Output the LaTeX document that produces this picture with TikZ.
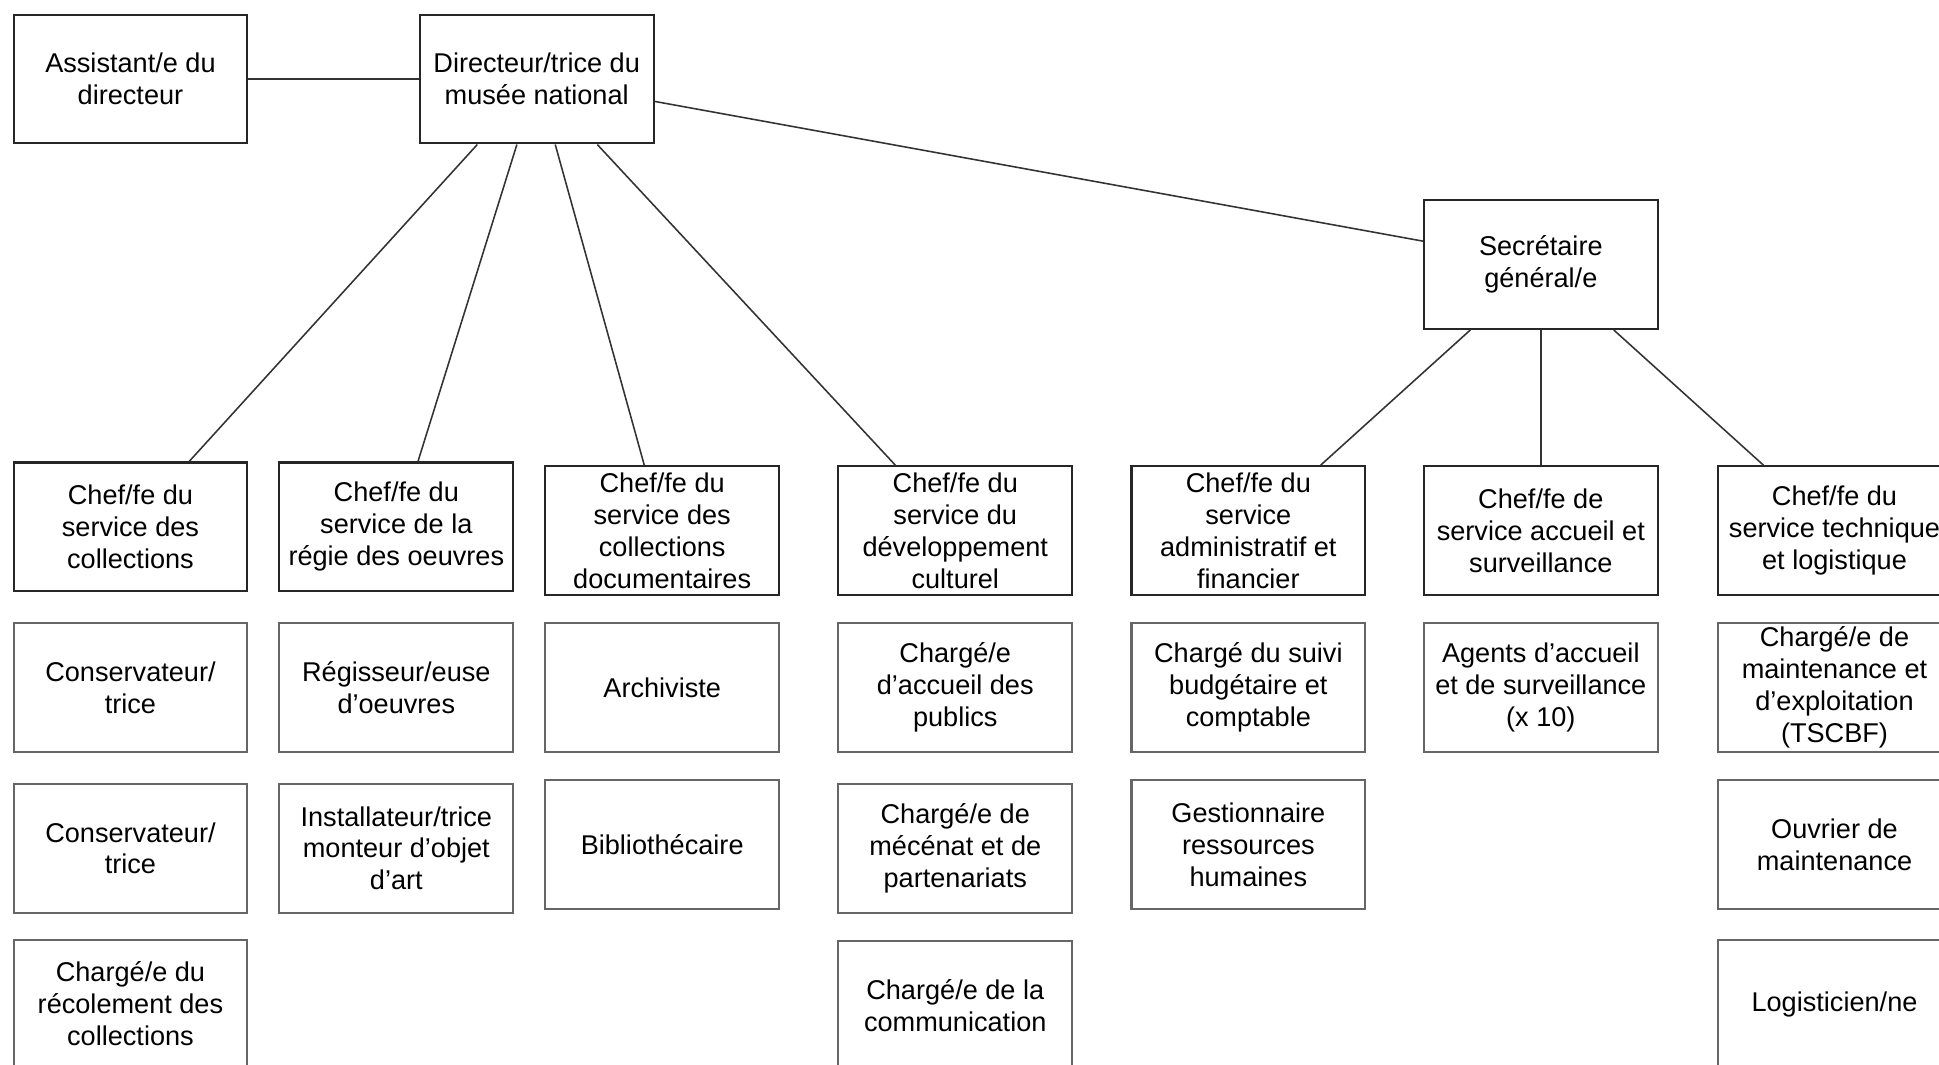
\documentclass[tikz,border=0pt]{standalone}
\usepackage{fontspec}
\setmainfont{Liberation Sans}
\usetikzlibrary{calc}

\begin{document}
\begin{tikzpicture}[x=0.0125cm,y=-0.0125cm,
    post/.style={draw=black!85,line width=0.6pt,minimum width=2.3625cm,
      minimum height=1.3cm,inner sep=0pt,align=center,
      font=\fontsize{7.8}{9.2}\selectfont},
    staff/.style={post,draw=black!60},
    link/.style={draw=black!80,line width=0.45pt}]
  \useasboundingbox (0,0) rectangle (1568,861);
  \clip (0,0) rectangle (1568,861);
  % direction
  \node[post] (asst) at (105.5,64) {Assistant/e du\\directeur};
  \node[post] (dir) at (434,64) {Directeur/trice du\\musée national};
  \node[post] (sg) at (1246,214) {Secrétaire\\général/e};
  % chefs de service
  \node[post] (coll) at (105.5,426) {Chef/fe du\\service des\\collections};
  \node[post] (regie) at (320.5,426) {Chef/fe du\\service de la\\régie des oeuvres};
  \node[post] (doc) at (535.5,429) {Chef/fe du\\service des\\collections\\documentaires};
  \node[post] (dev) at (772.5,429) {Chef/fe du\\service du\\développement\\culturel};
  \node[post] (adm) at (1009.5,429) {Chef/fe du\\service\\administratif et\\financier};
  \node[post] (acc) at (1246,429) {Chef/fe de\\service accueil et\\surveillance};
  \node[post] (tech) at (1483.5,429) {Chef/fe du\\service technique\\et logistique};
  % agents
  \node[staff] (cons1) at (105.5,556) {Conservateur/\\trice};
  \node[staff] (cons2) at (105.5,686) {Conservateur/\\trice};
  \node[staff] (recol) at (105.5,812) {Chargé/e du\\récolement des\\collections};
  \node[staff] (regis) at (320.5,556) {Régisseur/euse\\d’oeuvres};
  \node[staff] (install) at (320.5,686) {Installateur/trice\\monteur d’objet\\d’art};
  \node[staff] (archi) at (535.5,556) {Archiviste};
  \node[staff] (biblio) at (535.5,683) {Bibliothécaire};
  \node[staff] (publics) at (772.5,556) {Chargé/e\\d’accueil des\\publics};
  \node[staff] (mecenat) at (772.5,686) {Chargé/e de\\mécénat et de\\partenariats};
  \node[staff] (comm) at (772.5,813) {Chargé/e de la\\communication};
  \node[staff] (budget) at (1009.5,556) {Chargé du suivi\\budgétaire et\\comptable};
  \node[staff] (rh) at (1009.5,683) {Gestionnaire\\ressources\\humaines};
  \node[staff] (agents) at (1246,556) {Agents d’accueil\\et de surveillance\\(x 10)};
  \node[staff] (maint) at (1483.5,556) {Chargé/e de\\maintenance et\\d’exploitation\\(TSCBF)};
  \node[staff] (ouvrier) at (1483.5,683) {Ouvrier de\\maintenance};
  \node[staff] (logist) at (1483.5,812) {Logisticien/ne};
  % liens
  \begin{scope}[link]
    \draw (asst) -- (dir);
    \draw ($(dir.east)+(0,18)$) -- ($(sg.west)+(0,-19)$);
    \draw ($(dir.south)+(-48,0)$) -- ($(coll.north)+(47.5,0)$);
    \draw ($(dir.south)+(-16,0)$) -- ($(regie.north)+(17.5,0)$);
    \draw ($(dir.south)+(15,0)$) -- ($(doc.north)+(-14.5,0)$);
    \draw ($(dir.south)+(49,0)$) -- ($(dev.north)+(-48.5,0)$);
    \draw ($(sg.south)+(-57,0)$) -- ($(adm.north)+(58.5,0)$);
    \draw (sg) -- (acc);
    \draw ($(sg.south)+(59,0)$) -- ($(tech.north)+(-57.5,0)$);
  \end{scope}
\end{tikzpicture}
\end{document}
